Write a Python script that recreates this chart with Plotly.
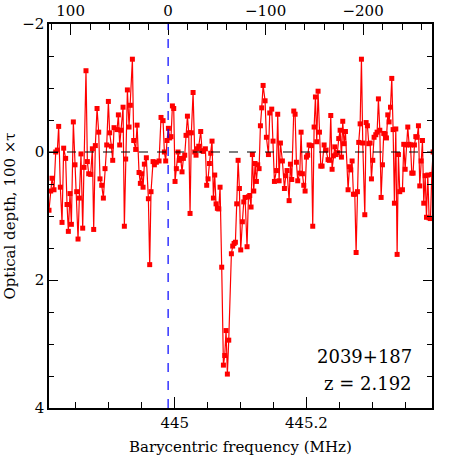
import plotly.graph_objects as go

# spectrum of 2039+187, optical depth (x100) against barycentric frequency
freq_mhz = [
    444.8090, 444.8116, 444.8136, 444.8166, 444.8192, 444.8217, 444.8237, 444.8262, 444.8288, 444.8313,
    444.8343, 444.8364, 444.8384, 444.8409, 444.8430, 444.8460, 444.8485, 444.8511, 444.8531, 444.8551,
    444.8576, 444.8602, 444.8622, 444.8652, 444.8673, 444.8693, 444.8723, 444.8749, 444.8769, 444.8794,
    444.8820, 444.8845, 444.8865, 444.8891, 444.8916, 444.8941, 444.8967, 444.8992, 444.9012, 444.9038,
    444.9058, 444.9078,
    444.9124, 444.9144, 444.9164, 444.9184, 444.9215, 444.9235, 444.9255, 444.9281, 444.9306, 444.9326,
    444.9357, 444.9377, 444.9407, 444.9428, 444.9458, 444.9478, 444.9499, 444.9519, 444.9539, 444.9569,
    444.9600, 444.9620, 444.9640, 444.9671, 444.9691, 444.9721, 444.9762, 444.9792, 444.9823, 444.9843,
    444.9863, 444.9883, 444.9904, 444.9924, 444.9944, 444.9965, 444.9985, 445.0005, 445.0025, 445.0051,
    445.0071, 445.0091, 445.0111, 445.0132, 445.0152, 445.0172, 445.0193, 445.0213, 445.0233, 445.0253,
    445.0279, 445.0304, 445.0324, 445.0344, 445.0365, 445.0395, 445.0415, 445.0436, 445.0466, 445.0486,
    445.0507, 445.0527, 445.0547, 445.0567, 445.0588, 445.0608, 445.0628, 445.0648, 445.0669, 445.0689,
    445.0714, 445.0740, 445.0760, 445.0780, 445.0800, 445.0821, 445.0861, 445.0881, 445.0902, 445.0922,
    445.0942, 445.0963, 445.0983, 445.1003,
    445.1028, 445.1049, 445.1069, 445.1099, 445.1120, 445.1140, 445.1160, 445.1180, 445.1201, 445.1221,
    445.1241, 445.1261, 445.1282, 445.1302, 445.1322, 445.1343, 445.1373, 445.1393, 445.1424, 445.1444,
    445.1474, 445.1494, 445.1515, 445.1545, 445.1565, 445.1586, 445.1606, 445.1636, 445.1667, 445.1687,
    445.1707, 445.1738, 445.1758, 445.1778, 445.1809, 445.1829, 445.1849, 445.1869, 445.1900, 445.1920,
    445.1940, 445.1961, 445.1981, 445.2001, 445.2021, 445.2042,
    445.2077, 445.2097, 445.2118, 445.2138, 445.2158, 445.2178, 445.2199, 445.2219, 445.2239, 445.2270,
    445.2300, 445.2330, 445.2351, 445.2371, 445.2391, 445.2411, 445.2432, 445.2452, 445.2472, 445.2492,
    445.2513, 445.2533, 445.2553, 445.2573, 445.2594, 445.2634, 445.2655, 445.2675, 445.2695, 445.2715,
    445.2736, 445.2756, 445.2776, 445.2796, 445.2817, 445.2837, 445.2857, 445.2888, 445.2908, 445.2928,
    445.2948, 445.2969, 445.2989, 445.3009, 445.3029,
    445.3055, 445.3075, 445.3095, 445.3116, 445.3136, 445.3156, 445.3176, 445.3197, 445.3217, 445.3237,
    445.3257, 445.3278, 445.3298, 445.3318, 445.3338, 445.3359, 445.3379, 445.3399, 445.3419, 445.3460,
    445.3480, 445.3501, 445.3521, 445.3541, 445.3561, 445.3582, 445.3602, 445.3622, 445.3642, 445.3663,
    445.3683, 445.3703, 445.3723, 445.3744, 445.3764, 445.3784, 445.3805, 445.3825, 445.3845, 445.3865,
    445.3886, 445.3906, 445.3926,
]

tau_x100 = [
    0.91, 0.61, 0.41, 0.59, 0.00, -0.03, -0.40, 0.55, 1.10, -0.06,
    0.10, 0.82, 1.24, 0.65, 1.13, -0.47, 0.20, 0.62, 1.36, 0.72,
    0.03, 1.19, 0.24, -1.27, 0.15, 0.34, 0.35, -0.05, 1.21, -0.10,
    -0.68, -0.31, 0.42, 0.52, 0.72, 0.26, -0.11, -0.79, -0.30, -0.09,
    0.13, -0.38,
    -0.35, -0.58, -0.11, -0.34, -0.70, 1.16, 0.11, -0.97, -0.39, -0.73,
    -1.45, -0.18, -0.04, -0.42, 0.32, 0.49, 0.34, 0.55, 0.19, 0.09,
    0.73, 1.76, 0.62, 0.15, 0.20, 0.16, 0.14, -0.54, -0.49, 0.00,
    0.14, -0.18, -0.37, -0.22, -0.24, -0.72, -0.68, 0.46, 0.26, 0.00,
    0.13, 0.10, 0.31, 0.10, 0.05, -0.26, -0.56, -0.30, 0.96, -0.30,
    -0.93, 0.00, 0.05, -0.05, -0.09, -0.32, -0.02, -0.01, -0.05, 0.52,
    0.42, 0.18, 0.02, -0.17, 0.72, 0.36, 0.81, 0.88, 0.89, 0.55,
    1.80, 3.33, 3.18, 2.79, 3.47, 2.94, 1.59, 1.47, 1.43, 1.41,
    0.81, 0.13, 0.57, 1.53,
    1.09, 0.78, 0.71, 1.48, 0.70, 0.68, 0.86, 0.04, 0.61, 0.18,
    0.46, 0.20, 0.26, -0.41, -0.69, -1.04, -0.80, -0.23, 0.04, -0.61,
    -0.67, -0.17, 0.46, 0.29, -0.59, 0.45, -0.14, 0.14, 0.57, 0.37,
    0.29, 0.76, 0.19, 0.43, -0.64, -0.59, 0.16, 0.45, 0.33, -0.31,
    0.34, 0.52, 0.61, 0.08, 0.05, -0.11,
    -0.10, 1.16, -0.39, -0.86, -0.16, -0.95, -0.31, 0.22, 0.22, -0.11,
    -0.03, 0.12, 0.13, -0.57, 0.27, 0.06, -0.08, 0.04, 0.01, -0.21,
    -0.34, 0.08, -0.48, -0.13, -0.32, 0.59, 0.23, 0.28, 0.14, 0.66,
    0.66, 1.57, 0.62, -0.15, -0.44, -1.45, -0.14, 0.98, -0.46, -0.41,
    -0.13, -0.14, 0.42, 0.13, -0.23,
    -0.27, -0.31, -0.83, -0.34, 0.71, 0.20, -0.29, -0.28, -0.22, -0.58,
    -0.47, -0.70, -1.15, -0.35, 0.80, -0.36, 1.60, 0.04, 0.62, 0.59,
    -0.12, 0.27, -0.11, -0.39, -0.12, -0.11, 0.33, 0.33, -0.11, -0.24,
    -0.23, -0.41, 0.53, 0.14, -0.18, 0.80, 0.37, 1.02, 0.36, 1.03,
    1.04, 0.35, 0.00,
]

freq_ticks = [445, 445.2]
freq_labels = ["445", "445.2"]
vel_ticks = [100, 0, -100, -200]
vel_labels = ["100", "0", "\u2212100", "\u2212200"]
tau_ticks = [-2, 0, 2, 4]
tau_labels = ["\u22122", "0", "2", "4"]

FONT = "DejaVu Serif"

fig = go.Figure()
fig.add_trace(go.Scatter(
    x=freq_mhz, y=tau_x100,
    mode="lines+markers",
    line=dict(color="red", width=1.2),
    marker=dict(symbol="square", size=5, color="red"),
    showlegend=False,
))
# empty trace so the velocity axis on top gets drawn
fig.add_trace(go.Scatter(x=[], y=[], xaxis="x2", yaxis="y", showlegend=False))

fig.add_shape(type="line", xref="paper", x0=0, x1=1, yref="y", y0=0, y1=0,
              line=dict(color="black", width=1.2, dash="dash"))
fig.add_shape(type="line", xref="x2", x0=0, x1=0, yref="paper", y0=0, y1=1,
              line=dict(color="blue", width=1.2, dash="dash"))

axis_style = dict(showgrid=False, zeroline=False, showline=True, linecolor="black",
                  linewidth=1.5, ticks="inside", tickcolor="black", automargin=False,
                  tickfont=dict(family=FONT, size=15, color="black"))

fig.update_layout(
    width=457, height=457,
    margin=dict(l=49, r=25, t=24, b=49),
    paper_bgcolor="white", plot_bgcolor="white",
    font=dict(family=FONT, color="black"),
    xaxis=dict(range=[444.8090, 445.3909], tickvals=freq_ticks, ticktext=freq_labels,
               ticklen=11, minor=dict(dtick=0.05, tick0=445, ticks="inside", ticklen=6,
                                      tickcolor="black"),
               **axis_style),
    xaxis2=dict(overlaying="x", side="top", range=[122.2, -270.7], tickvals=vel_ticks,
                ticktext=vel_labels, ticklen=11,
                minor=dict(dtick=20, tick0=0, ticks="inside", ticklen=6, tickcolor="black"),
                **axis_style),
    yaxis=dict(range=[4, -2], tickvals=tau_ticks, ticktext=tau_labels, ticklen=9,
               mirror="ticks",
               minor=dict(dtick=0.5, tick0=0, ticks="inside", ticklen=5, tickcolor="black"),
               **axis_style),
    annotations=[
        dict(text="Barycentric frequency (MHz)", xref="paper", yref="paper", x=0.5, y=-0.102,
             xanchor="center", yanchor="middle", showarrow=False,
             font=dict(family=FONT, size=15)),
        dict(text="Optical depth, 100 \u00d7\u03c4", xref="paper", yref="paper", x=-0.103, y=0.5,
             xanchor="center", yanchor="middle", textangle=-90, showarrow=False,
             font=dict(family=FONT, size=15)),
        dict(text="2039+187", xref="paper", yref="paper", x=0.952, y=0.133,
             xanchor="right", yanchor="middle", showarrow=False,
             font=dict(family=FONT, size=18)),
        dict(text="z = 2.192", xref="paper", yref="paper", x=0.952, y=0.065,
             xanchor="right", yanchor="middle", showarrow=False,
             font=dict(family=FONT, size=18)),
    ],
)

# drop the default page margin so the figure sits at the window's corner
fig.write_html("out.html", config={"displayModeBar": False},
               post_script="document.body.style.margin='0';")
